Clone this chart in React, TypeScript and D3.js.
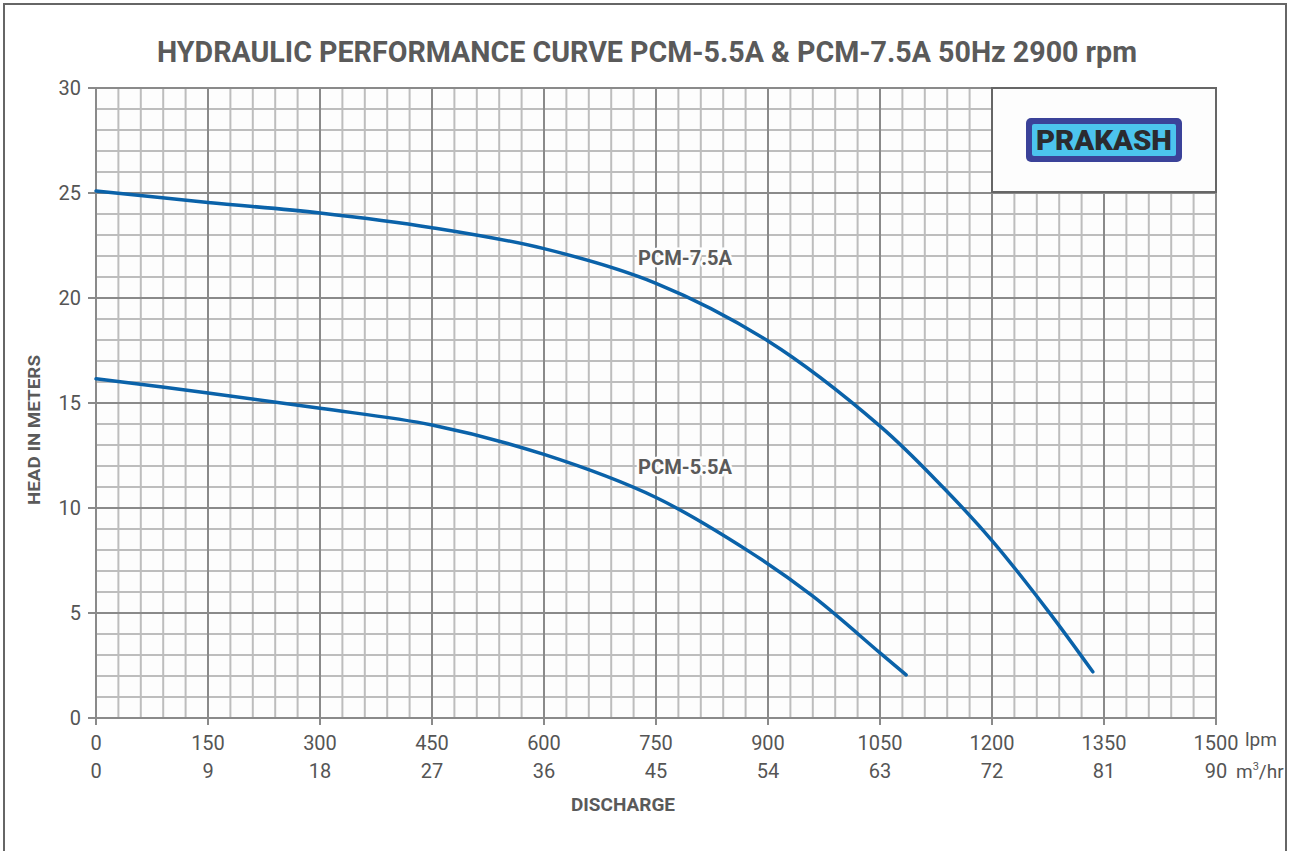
import React from "react";
import * as d3 from "d3";

const lpmTicks = [0, 150, 300, 450, 600, 750, 900, 1050, 1200, 1350, 1500];
const m3hrTicks = [0, 9, 18, 27, 36, 45, 54, 63, 72, 81, 90];
const headTicks = [0, 5, 10, 15, 20, 25, 30];

const pcm75Q = [0, 150, 300, 450, 600, 750, 900, 1050, 1134, 1200, 1274, 1335];
const pcm75H = [25.1, 24.55, 24.05, 23.35, 22.35, 20.7, 17.95, 13.9, 11.0, 8.45, 5.15, 2.2];
const pcm55Q = [0, 150, 300, 450, 600, 750, 876, 960, 1050, 1085];
const pcm55H = [16.15, 15.48, 14.75, 13.95, 12.55, 10.5, 7.9, 5.8, 3.1, 2.05];

const series = [
  { name: "PCM-7.5A", q: pcm75Q, h: pcm75H, labelQ: 726, labelH: 21.57 },
  { name: "PCM-5.5A", q: pcm55Q, h: pcm55H, labelQ: 726, labelH: 11.62 },
];

const FONT = "'Roboto', 'Liberation Sans', sans-serif";

export default function App() {
  const x = d3.scaleLinear().domain([0, 1500]).range([96, 1216]);
  const y = d3.scaleLinear().domain([0, 30]).range([718, 88]);
  const minorX = d3.range(0, 1501, 30);
  const minorY = d3.range(0, 31, 1);
  const line = d3
    .line<[number, number]>()
    .x((d) => x(d[0]))
    .y((d) => y(d[1]))
    .curve(d3.curveCatmullRom.alpha(0.5));

  return (
    <svg
      width={1290}
      height={851}
      style={{ position: "absolute", left: 0, top: 0, background: "#fff" }}
    >
      <rect x={0} y={0} width={1290} height={851} fill="#fff" />
      <rect x={4} y={4} width={1282} height={870} fill="none" stroke="#666" strokeWidth={2} />
      <text
        x={647}
        y={62}
        textAnchor="middle"
        fontFamily={FONT}
        fontWeight="bold"
        fontSize={29}
        fill="#5a5a5a"
        textLength={980}
        lengthAdjust="spacingAndGlyphs"
      >
        HYDRAULIC PERFORMANCE CURVE PCM-5.5A &amp; PCM-7.5A 50Hz 2900 rpm
      </text>
      <rect x={x(0)} y={y(30)} width={x(1500) - x(0)} height={y(0) - y(30)} fill="#fdfdfd" />
      {minorX.map((v) => (
        <line
          key={"mx" + v}
          x1={x(v)}
          x2={x(v)}
          y1={y(0)}
          y2={y(30)}
          stroke="#bdbdbd"
          strokeWidth={2}
        />
      ))}
      {minorY.map((v) => (
        <line
          key={"my" + v}
          x1={x(0)}
          x2={x(1500)}
          y1={y(v)}
          y2={y(v)}
          stroke="#bdbdbd"
          strokeWidth={2}
        />
      ))}
      {lpmTicks.map((v) => (
        <line
          key={"Mx" + v}
          x1={x(v)}
          x2={x(v)}
          y1={y(0) + 7}
          y2={y(30)}
          stroke="#8a8a8a"
          strokeWidth={2}
        />
      ))}
      {headTicks.map((v) => (
        <line
          key={"My" + v}
          x1={x(0) - 8}
          x2={x(1500)}
          y1={y(v)}
          y2={y(v)}
          stroke="#8a8a8a"
          strokeWidth={2}
        />
      ))}
      <rect x={992} y={88} width={224} height={104} fill="#fdfdfd" stroke="#666" strokeWidth={2} />
      <rect x={1026} y={118} width={156} height={44} rx={5} fill="#3b4299" />
      <rect x={1032} y={124} width={144} height={32} rx={2} fill="#4cc4ee" />
      <text
        x={1104}
        y={150}
        textAnchor="middle"
        fontFamily={FONT}
        fontWeight={900}
        fontSize={27}
        fill="#2b2b2f"
        textLength={136}
        lengthAdjust="spacingAndGlyphs"
      >
        PRAKASH
      </text>
      {series.map((s) => (
        <path
          key={s.name}
          d={line(s.q.map((q, i) => [q, s.h[i]] as [number, number])) || ""}
          fill="none"
          stroke="#0a62a9"
          strokeWidth={3.5}
          strokeLinecap="round"
        />
      ))}
      {series.map((s) => (
        <text
          key={"l" + s.name}
          x={x(s.labelQ)}
          y={y(s.labelH)}
          fontFamily={FONT}
          fontWeight="bold"
          fontSize={21}
          fill="#5a5a5a"
          stroke="#fdfdfd"
          strokeWidth={5}
          paintOrder="stroke"
          textLength={94}
          lengthAdjust="spacingAndGlyphs"
        >
          {s.name}
        </text>
      ))}
      {headTicks.map((v) => (
        <text
          key={"yt" + v}
          x={81}
          y={y(v) + 7}
          textAnchor="end"
          fontFamily={FONT}
          fontSize={20}
          fill="#555"
        >
          {v}
        </text>
      ))}
      {lpmTicks.map((v) => (
        <text
          key={"xt" + v}
          x={x(v)}
          y={750}
          textAnchor="middle"
          fontFamily={FONT}
          fontSize={20}
          fill="#555"
        >
          {v}
        </text>
      ))}
      {m3hrTicks.map((v, i) => (
        <text
          key={"xm" + v}
          x={x(lpmTicks[i])}
          y={778}
          textAnchor="middle"
          fontFamily={FONT}
          fontSize={20}
          fill="#555"
        >
          {v}
        </text>
      ))}
      <text x={1245} y={746} fontFamily={FONT} fontSize={19} fill="#555">
        lpm
      </text>
      <text x={1236} y={778} fontFamily={FONT} fontSize={19} fill="#555">
        m<tspan dy={-8} fontSize={11}>3</tspan>
        <tspan dy={8}>/hr</tspan>
      </text>
      <text
        x={623}
        y={811}
        textAnchor="middle"
        fontFamily={FONT}
        fontWeight="bold"
        fontSize={19}
        fill="#5a5a5a"
        textLength={104}
        lengthAdjust="spacingAndGlyphs"
      >
        DISCHARGE
      </text>
      <text
        transform="translate(40,430) rotate(-90)"
        textAnchor="middle"
        fontFamily={FONT}
        fontWeight="bold"
        fontSize={17}
        fill="#5a5a5a"
        textLength={150}
        lengthAdjust="spacingAndGlyphs"
      >
        HEAD IN METERS
      </text>
    </svg>
  );
}
